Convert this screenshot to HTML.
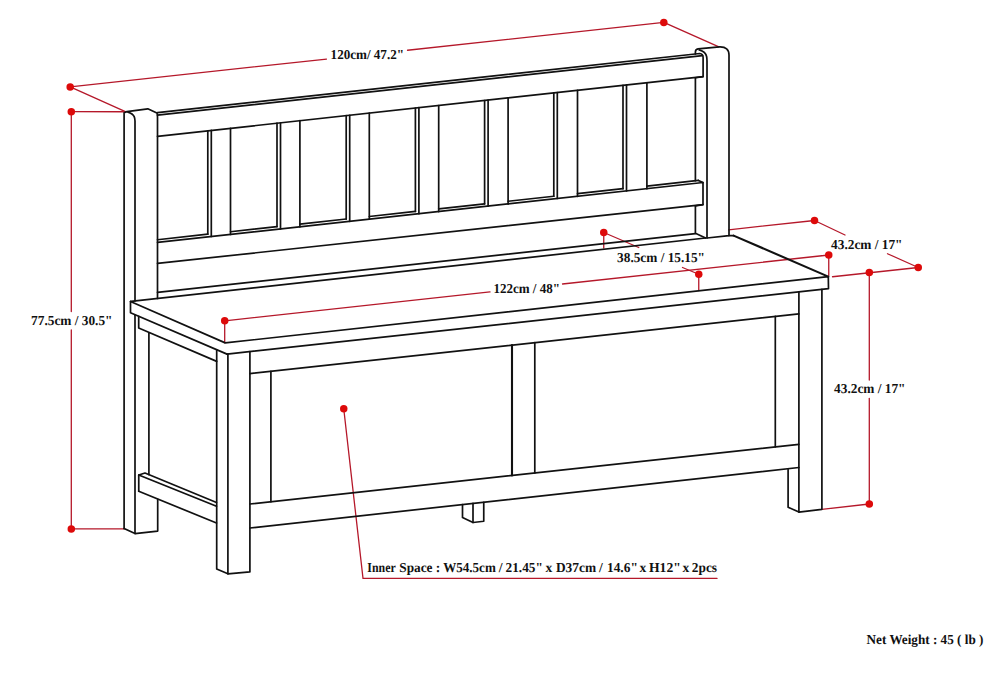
<!DOCTYPE html>
<html><head><meta charset="utf-8"><title>Bench dimensions</title>
<style>html,body{margin:0;padding:0;background:#fff;}svg{display:block;}text{font-family:"Liberation Serif",serif;font-weight:bold;text-rendering:geometricPrecision;font-size:13.6px;fill:#111;}</style></head><body>
<svg width="1000" height="673" viewBox="0 0 1000 673">
<rect width="1000" height="673" fill="#ffffff"/>
<g fill="none" stroke="#b5182a" stroke-width="1.3" stroke-linecap="round">
<path d="M70.20,86.90 L326.50,59.05"/>
<path d="M407.50,50.25 L663.80,22.40"/>
<path d="M70.20,86.90 L125.40,111.70"/>
<path d="M663.80,22.40 L718.90,46.80"/>
<path d="M71.30,111.70 L124.10,111.75"/>
<path d="M71.30,111.70 L71.30,311.50"/>
<path d="M71.30,330.00 L71.30,528.90"/>
<path d="M71.30,528.90 L124.10,528.90"/>
<path d="M224.70,320.80 L490.00,291.90"/>
<path d="M562.50,284.00 L828.75,255.00"/>
<path d="M224.70,320.80 L224.70,342.80"/>
<path d="M828.75,255.00 L828.75,275.50"/>
<path d="M603.75,232.50 L603.75,248.00"/>
<path d="M603.75,232.50 L638.75,247.50"/>
<path d="M682.50,267.50 L698.75,274.25"/>
<path d="M698.75,274.25 L698.75,290.50"/>
<path d="M728.60,229.80 L814.50,220.50"/>
<path d="M814.50,220.50 L845.00,235.00"/>
<path d="M887.50,253.75 L918.25,267.50"/>
<path d="M832.50,276.75 L918.25,267.50"/>
<path d="M869.30,272.50 L869.30,380.00"/>
<path d="M869.30,398.50 L869.30,504.00"/>
<path d="M821.90,509.30 L869.30,504.00"/>
<path d="M343.75,408.75 L363,578.4 L717,578.4"/>
</g>
<g fill="none" stroke="#111111" stroke-width="1.7" stroke-linecap="round" stroke-linejoin="round">
<path d="M124.1,528.5 L124.1,112.8 L126.9,111.6 L147.8,108.8 L156.9,112.9 Q157.5,114 157.5,117 L157.5,298.52"/>
<path d="M128,112.1 Q132.8,113.6 134.2,116.6 Q135.0,118.5 135.0,121 L135.0,301.00"/>
<path d="M135.0,315.2 L135.0,533.5"/>
<path d="M124.1,528.5 L135.0,533.6 L157.7,531.1 L157.7,499.3"/>
<path d="M148.90,333.30 L148.90,474.60"/>
<path d="M695.4,53.98 L695.4,52 Q695.4,49.3 698.0,48.9 L719.6,46.9 Q729.0,46.6 729.0,55 L729.0,235.6 L707.0,238"/>
<path d="M699.2,49.9 Q705.6,51.8 706.6,56.5 Q707.0,58.5 707.0,61 L707.0,238"/>
<path d="M695.40,77.74 L695.40,180.73"/>
<path d="M695.4,205.92 L695.4,233.3 L705.6,238"/>
<path d="M157.5,112.66 L699.8,53.5 Q703.1,53.8 703.1,57.5 L703.1,76.6 L157.5,136.30"/>
<path d="M157.50,115.12 L702.40,55.68"/>
<path d="M703.1,76.6 L695.4,77.74"/>
<path d="M157.5,242.42 L703.0,182.5 L703.0,204.6 L157.5,263.42"/>
<path d="M703.0,182.5 L698.4,180.40"/>
<path d="M703.0,204.6 L695.4,205.92"/>
<path d="M157.50,292.35 L695.40,233.63"/>
<path d="M131.00,301.44 L705.60,238.00"/>
<path d="M207.80,130.80 L207.80,234.21"/>
<path d="M211.30,130.41 L211.30,236.51"/>
<path d="M230.50,128.31 L230.50,234.40"/>
<path d="M157.50,239.72 L207.80,234.21"/>
<path d="M277.00,123.22 L277.00,226.62"/>
<path d="M280.50,122.84 L280.50,228.91"/>
<path d="M299.90,120.72 L299.90,226.78"/>
<path d="M230.50,231.72 L277.00,226.62"/>
<path d="M346.20,115.65 L346.20,219.03"/>
<path d="M349.70,115.27 L349.70,221.31"/>
<path d="M369.30,113.12 L369.30,219.16"/>
<path d="M299.90,224.11 L346.20,219.03"/>
<path d="M415.40,108.08 L415.40,211.44"/>
<path d="M418.90,107.70 L418.90,213.71"/>
<path d="M438.70,105.53 L438.70,211.53"/>
<path d="M369.30,216.50 L415.40,211.44"/>
<path d="M484.60,100.51 L484.60,203.85"/>
<path d="M488.10,100.13 L488.10,206.11"/>
<path d="M508.10,97.94 L508.10,203.91"/>
<path d="M438.70,208.88 L484.60,203.85"/>
<path d="M553.80,92.94 L553.80,196.26"/>
<path d="M557.30,92.55 L557.30,198.50"/>
<path d="M577.50,90.34 L577.50,196.29"/>
<path d="M508.10,201.27 L553.80,196.26"/>
<path d="M623.00,85.36 L623.00,188.67"/>
<path d="M626.50,84.98 L626.50,190.90"/>
<path d="M646.90,82.75 L646.90,188.66"/>
<path d="M577.50,193.66 L623.00,188.67"/>
<path d="M646.90,186.05 L698.40,180.40"/>
<path d="M130.5,301.5 L225.2,342.9 L828.3,276.6 L828.5,288.7 L227.0,354.1"/>
<path d="M130.5,301.5 L130.5,312.8 L227.0,354.1"/>
<path d="M729.0,235.6 L733.6,235.6"/>
<path d="M138.7,316.4 L138.7,328 L216.7,361.4"/>
<path d="M216.7,349.8 L216.7,569 L227.9,573.8 L249.9,571.9 L249.9,351.61"/>
<path d="M227.9,354 L227.9,573.8"/>
<path d="M798.9,291.90 L798.9,512.1 L821.9,509.3 L821.9,289.40"/>
<path d="M788.1,469.6 L788.1,507.2 L798.9,512.1"/>
<path d="M249.90,373.60 L798.90,313.90"/>
<path d="M249.90,504.00 L798.90,444.30"/>
<path d="M249.90,528.00 L798.90,467.50"/>
<path d="M270.90,371.32 L270.90,501.72"/>
<path d="M534.80,342.62 L534.80,473.02"/>
<path d="M775.30,316.47 L775.30,446.87"/>
<path d="M462.5,504.57 L462.5,517.5 L473,522.5 L483.75,521.25 L483.75,502.23"/>
<path d="M473,503.41 L473,522.5"/>
<path d="M138.75,491.25 L138.75,475 L145,473 L216.5,502.5"/>
<path d="M138.75,475 L216.5,506.25"/>
<path d="M138.75,491.25 L216.5,523"/>
</g>
<g fill="none" stroke="#111111" stroke-width="2.1" stroke-linecap="round">
<path d="M733.6,235.6 L828.3,276.6"/>
<path d="M512.00,345.10 L512.00,475.50"/>
</g>
<g fill="#dd0a0a">
<circle cx="70.2" cy="86.9" r="3.75"/>
<circle cx="663.8" cy="22.4" r="3.75"/>
<circle cx="71.3" cy="111.7" r="3.75"/>
<circle cx="71.3" cy="528.9" r="3.75"/>
<circle cx="224.7" cy="320.8" r="3.75"/>
<circle cx="828.75" cy="255" r="3.75"/>
<circle cx="603.75" cy="232.5" r="3.75"/>
<circle cx="698.75" cy="274.25" r="3.75"/>
<circle cx="814.5" cy="220.5" r="3.75"/>
<circle cx="918.25" cy="267.5" r="3.75"/>
<circle cx="869.3" cy="272.5" r="3.75"/>
<circle cx="869.3" cy="504" r="3.75"/>
<circle cx="343.75" cy="408.75" r="3.75"/>
</g>
<text x="330.6" y="59.2" textLength="73.4" lengthAdjust="spacingAndGlyphs">120cm/ 47.2&quot;</text>
<text x="31.1" y="324.6" textLength="81.4" lengthAdjust="spacingAndGlyphs">77.5cm / 30.5&quot;</text>
<text x="493.4" y="292.5" textLength="66.6" lengthAdjust="spacingAndGlyphs">122cm / 48&quot;</text>
<text x="617.1" y="262" textLength="87.9" lengthAdjust="spacingAndGlyphs">38.5cm / 15.15&quot;</text>
<text x="831.1" y="248.5" textLength="71.4" lengthAdjust="spacingAndGlyphs">43.2cm / 17&quot;</text>
<text x="834.1" y="393" textLength="71.4" lengthAdjust="spacingAndGlyphs">43.2cm / 17&quot;</text>
<text x="367.3" y="571.7" textLength="28.4" lengthAdjust="spacingAndGlyphs">Inner</text>
<text x="399.3" y="571.7" textLength="33.2" lengthAdjust="spacingAndGlyphs">Space</text>
<text x="435.8" y="571.7">:</text>
<text x="443.2" y="571.7" textLength="52.6" lengthAdjust="spacingAndGlyphs">W54.5cm</text>
<text x="498.8" y="571.7">/</text>
<text x="505.6" y="571.7" textLength="37.2" lengthAdjust="spacingAndGlyphs">21.45&quot;</text>
<text x="545.4" y="571.7">x</text>
<text x="555.9" y="571.7" textLength="40.2" lengthAdjust="spacingAndGlyphs">D37cm</text>
<text x="599.0" y="571.7">/</text>
<text x="607.0" y="571.7" textLength="30.8" lengthAdjust="spacingAndGlyphs">14.6&quot;</text>
<text x="639.4" y="571.7">x</text>
<text x="649" y="571.7" textLength="31.8" lengthAdjust="spacingAndGlyphs">H12&quot;</text>
<text x="682.4" y="571.7">x</text>
<text x="691.8" y="571.7" textLength="25.2" lengthAdjust="spacingAndGlyphs">2pcs</text>
<text x="866.6" y="643.9" textLength="116.8" lengthAdjust="spacingAndGlyphs">Net Weight : 45 ( lb )</text>
</svg></body></html>
